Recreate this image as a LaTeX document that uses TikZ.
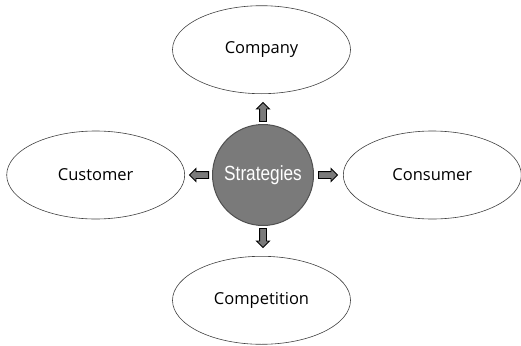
\documentclass[tikz,border=0pt]{standalone}
\usepackage{fontspec}
\setmainfont{Open Sans}
\newfontfamily\narrowfont{Liberation Sans}[FakeStretch=0.84]
\usetikzlibrary{positioning,shapes.geometric,shapes.arrows}

\definecolor{hubgray}{HTML}{7A7A7A}
\definecolor{hubline}{HTML}{505050}

\begin{document}
\begin{tikzpicture}[x=1pt, y=-1pt,
    topic/.style={ellipse, draw=black!75, line width=0.6pt, minimum width=178pt, minimum height=88pt, font=\fontsize{16.5}{19}\selectfont},
    hub/.style={circle, fill=hubgray, draw=hubline, line width=1pt, minimum size=101pt, inner sep=0pt, text=white, font=\narrowfont\fontsize{20.5}{23}\selectfont},
    blockarrow/.style={single arrow, draw=black, fill=hubgray, line width=0.9pt, minimum height=19pt, inner sep=3pt, single arrow head extend=3pt}]
  \useasboundingbox (0,0) rectangle (521,345);
  % centre
  \node[hub] (strat) at (263,175) {Strategies};
  % the four topics
  \node[topic, above=30pt of strat, xshift=-1.5pt] (company) {Company};
  \node[topic, below=30pt of strat, xshift=-1.5pt] (competition) {Competition};
  \node[topic, left=27pt of strat] (customer) {Customer};
  \node[topic, right=29pt of strat] (consumer) {Consumer};
  % arrows out of the centre
  \node[blockarrow, shape border rotate=90, above=2pt of strat] (upArrow) {};
  \node[blockarrow, shape border rotate=270, below=2pt of strat] (downArrow) {};
  \node[blockarrow, shape border rotate=180, left=3pt of strat] (leftArrow) {};
  \node[blockarrow, shape border rotate=0, right=4pt of strat] (rightArrow) {};
\end{tikzpicture}
\end{document}
